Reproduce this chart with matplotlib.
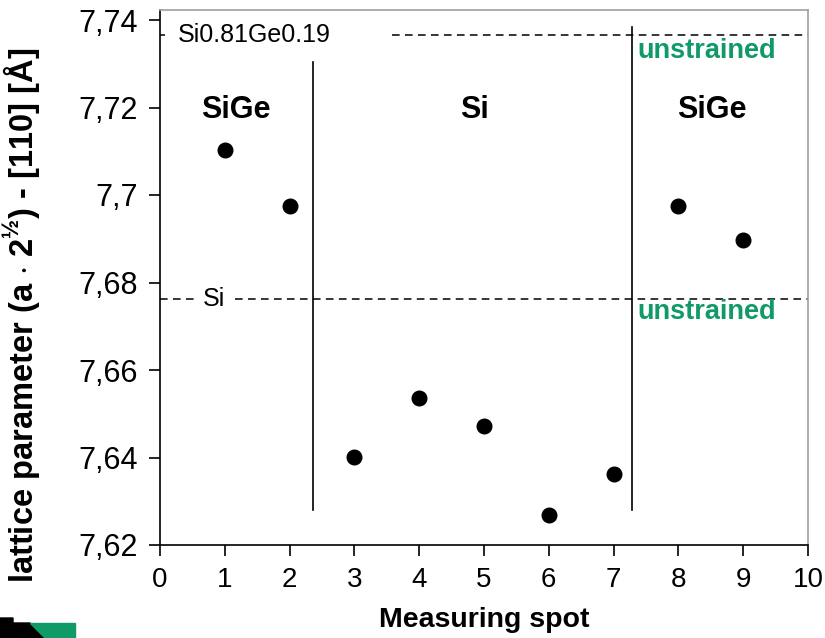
import matplotlib
matplotlib.use("Agg")
import matplotlib.pyplot as plt
from matplotlib.patches import Polygon

# ---- data ----
spots = [1, 2, 3, 4, 5, 6, 7, 8, 9]
lattice = [7.7104, 7.6975, 7.6402, 7.6536, 7.6472, 7.6268, 7.6362, 7.6975, 7.6898]
xticks = [0, 1, 2, 3, 4, 5, 6, 7, 8, 9, 10]
yticks = [7.62, 7.64, 7.66, 7.68, 7.70, 7.72, 7.74]
ytick_labels = ["7,62", "7,64", "7,66", "7,68", "7,7", "7,72", "7,74"]
sige_ref = 7.7365
si_ref = 7.6762
boundaries = [2.355, 7.28]
boundary_tops = [7.7305, 7.7385]
boundary_bottom = 7.628
region_labels = ["SiGe", "Si", "SiGe"]
region_x = [1.17, 4.86, 8.52]

GREEN = "#0f9a68"
plt.rcParams['font.family'] = ['Liberation Sans', 'DejaVu Sans']
plt.rcParams['mathtext.fontset'] = 'custom'
plt.rcParams['mathtext.rm'] = 'Liberation Sans:bold'
plt.rcParams['mathtext.bf'] = 'Liberation Sans:bold'

fig = plt.figure(figsize=(8.25, 6.38), dpi=100)
ax = fig.add_axes([160/825, 1-545/638, (808-160)/825, (545-10)/638])

ax.set_xlim(0, 10)
ax.set_ylim(7.62, 7.74 + 10/4375)

# reference dashed lines
dash = dict(color="black", lw=1.1, linestyle=(0, (5, 3.5)))
ax.plot([0, 0.08], [sige_ref, sige_ref], **dash)
ax.plot([3.58, 10], [sige_ref, sige_ref], **dash)
ax.plot([0, 0.55], [si_ref, si_ref], **dash)
ax.plot([1.16, 10], [si_ref, si_ref], **dash)
ax.text(0.27, sige_ref, "Si0.81Ge0.19", fontsize=18, va="center", ha="left")
ax.text(0.66, si_ref, "Si", fontsize=18, va="center", ha="left")

# region boundaries
for bx, bt in zip(boundaries, boundary_tops):
    ax.plot([bx, bx], [boundary_bottom, bt], color="black", lw=1.2)

for lab, rx in zip(region_labels, region_x):
    ax.text(rx, 7.7195, lab, fontsize=22, fontweight="bold", ha="center", va="center")

ax.text(7.36, 7.7330, "unstrained", fontsize=19.5, fontweight="bold", color=GREEN, ha="left", va="center")
ax.text(7.36, 7.6732, "unstrained", fontsize=19.5, fontweight="bold", color=GREEN, ha="left", va="center")

# data points
ax.plot(spots, lattice, linestyle="none", marker="o", markersize=10.5, color="black")

ax.set_xticks(xticks)
ax.set_xticklabels([str(t) for t in xticks], fontsize=20)
ax.set_yticks(yticks)
ax.set_yticklabels(ytick_labels, fontsize=22)
ax.tick_params(direction="out", length=8, width=1.2, pad=8)

for s in ["top", "right"]:
    ax.spines[s].set_color("#a0a0a0")
    ax.spines[s].set_linewidth(1.2)
for s in ["left", "bottom"]:
    ax.spines[s].set_color("black")
    ax.spines[s].set_linewidth(1.2)

ax.set_xlabel("Measuring spot", fontsize=20.5, fontweight="bold", labelpad=10)
fig.text(22/825, 1-315/638,
         r"lattice parameter (a $\cdot$ 2$^{½}$) - [110] [Å]",
         rotation=90, fontsize=23.5, fontweight="bold", ha="center", va="center")

# logo at bottom-left
fig.patches.append(Polygon([[0, 1-618/638], [13/825, 1-618/638], [13/825, 1-623/638],
                            [30/825, 1-623/638], [45/825, 0], [0, 0]],
                           closed=True, transform=fig.transFigure, color="black"))
fig.patches.append(Polygon([[30/825, 1-623/638], [75/825, 1-623/638], [75/825, 0],
                            [45/825, 0]],
                           closed=True, transform=fig.transFigure, color=GREEN))

fig.savefig("out.png", dpi=100)
